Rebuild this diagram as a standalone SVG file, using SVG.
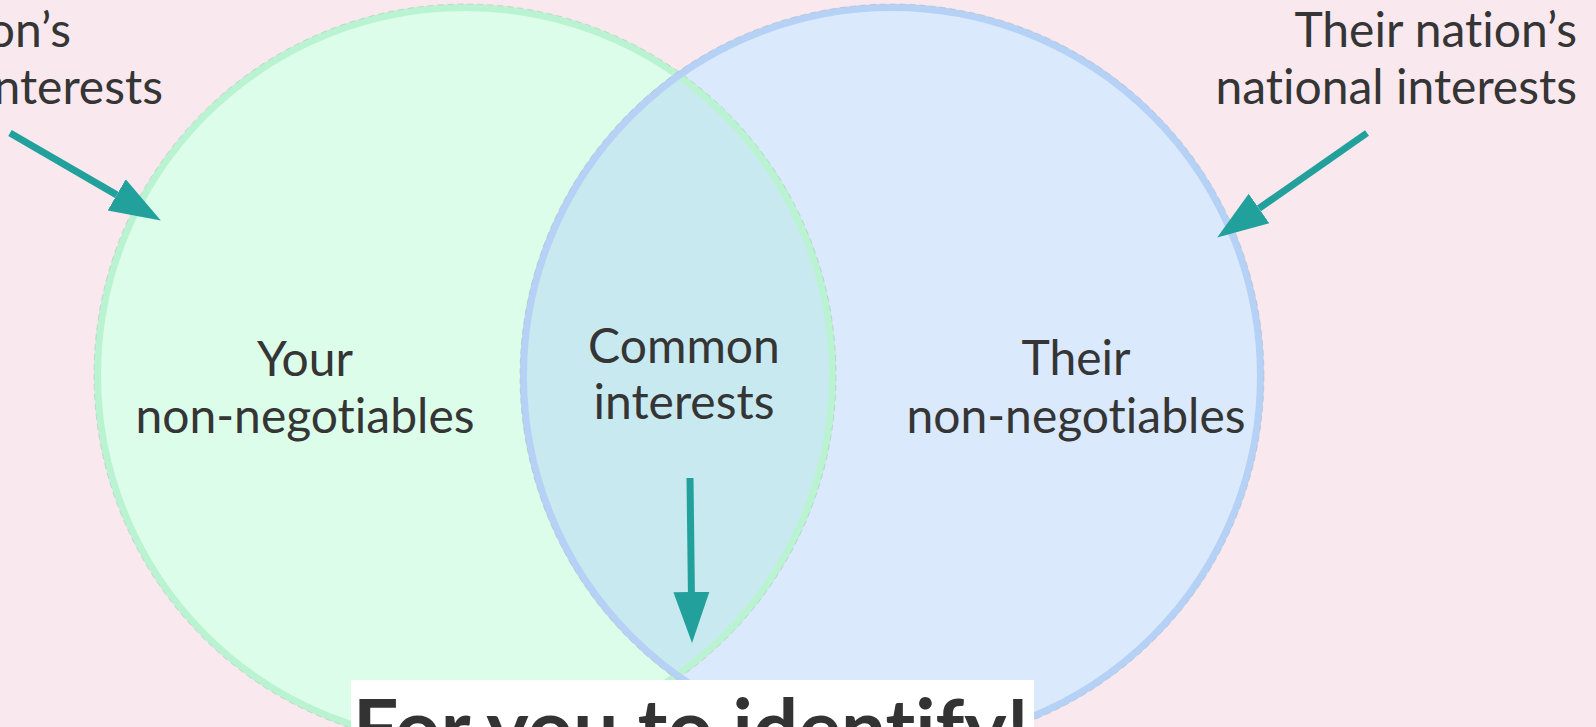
<svg xmlns="http://www.w3.org/2000/svg" width="1596" height="727" viewBox="0 0 1596 727">
<defs>
<style>
.lbl{font-family:Lato,"Open Sans","Liberation Sans",sans-serif;font-size:48px;fill:#353535;font-variant-ligatures:none;}
.big{font-family:Lato,"Open Sans","Liberation Sans",sans-serif;font-size:80px;font-weight:bold;fill:#333333;font-variant-ligatures:none;}
.arr{stroke:#22a19c;stroke-width:7;fill:none;marker-end:url(#head);}
</style>
<marker id="head" markerUnits="userSpaceOnUse" markerWidth="52" markerHeight="38" refX="0" refY="19" orient="auto" viewBox="0 0 52 38">
<path d="M0,1 L51,19 L0,37 Z" fill="#22a19c"/>
</marker>
<clipPath id="clipR"><circle cx="892" cy="376" r="372"/></clipPath>
</defs>
<rect width="1596" height="727" fill="#f9e9ef"/>
<g id="circle-left">
<circle cx="465" cy="375" r="371" fill="#dcfde9"/>
</g>
<g id="circle-right">
<circle cx="892" cy="376" r="372" fill="#dae9fb"/>
</g>
<g id="overlap">
<circle cx="465" cy="375" r="371" fill="#c8e9ef" clip-path="url(#clipR)"/>
</g>
<g id="rings">
<circle cx="465" cy="375" r="367.5" fill="none" stroke="#b9f3d1" stroke-width="7"/>
<circle cx="465" cy="375" r="371" fill="none" stroke="#b0b0b0" stroke-width="1" stroke-opacity="0.45" stroke-dasharray="6 4"/>
<circle cx="892" cy="376" r="368.5" fill="none" stroke="#b5d1f5" stroke-width="7"/>
<circle cx="892" cy="376" r="372" fill="none" stroke="#b0b0b0" stroke-width="1" stroke-opacity="0.45" stroke-dasharray="6 4"/>
</g>
<g id="label-your">
<text class="lbl" text-anchor="middle" x="305" y="376">Your</text>
<text class="lbl" text-anchor="middle" x="305" y="433">non-negotiables</text>
</g>
<g id="label-common">
<text class="lbl" text-anchor="middle" x="684" y="363">Common</text>
<text class="lbl" text-anchor="middle" x="684" y="419">interests</text>
</g>
<g id="label-their">
<text class="lbl" text-anchor="middle" x="1076" y="375">Their</text>
<text class="lbl" text-anchor="middle" x="1076" y="433">non-negotiables</text>
</g>
<g id="label-your-nation">
<text class="lbl" text-anchor="end" x="71" y="47">on’s</text>
<text class="lbl" text-anchor="end" x="163" y="104">nterests</text>
</g>
<g id="label-their-nation">
<text class="lbl" text-anchor="end" x="1577" y="47">Their nation’s</text>
<text class="lbl" text-anchor="end" x="1577" y="104">national interests</text>
</g>
<g id="connectors">
<line class="arr" x1="10" y1="133" x2="116.7" y2="194.9"/>
<line class="arr" x1="1367" y1="133" x2="1259" y2="208.4"/>
<line class="arr" x1="690" y1="478" x2="691.4" y2="592"/>
</g>
<g id="callout">
<rect x="351" y="680" width="683" height="60" fill="#ffffff"/>
<text class="big" text-anchor="middle" x="691" y="757">For you to identify!</text>
</g>
</svg>
